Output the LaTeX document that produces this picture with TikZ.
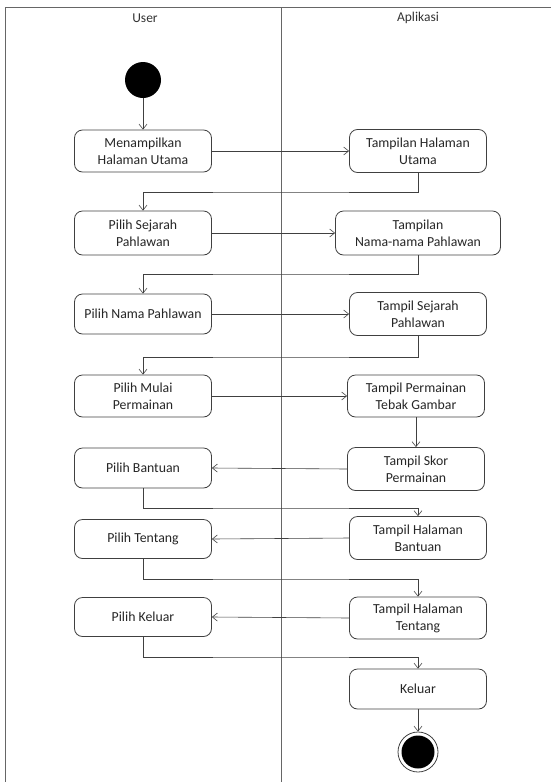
\documentclass[tikz,border=0pt]{standalone}
\usepackage{fontspec}
\setmainfont{Carlito}
\usetikzlibrary{arrows.meta}
\begin{document}
\begin{tikzpicture}[x=1pt,y=-1pt,
  act/.style={draw=black!75,line width=0.8pt,rounded corners=8pt,align=center,
    minimum width=137pt,minimum height=42pt,inner sep=1pt,
    font=\fontsize{13.8}{16.8}\selectfont,text=black!85},
  flow/.style={draw=black!75,line width=0.6pt,-{Straight Barb[length=5pt,width=8pt]}},
  lane/.style={draw=black!60,line width=0.9pt},
  hdr/.style={font=\fontsize{13.5}{15}\selectfont,text=black!80}]
\useasboundingbox (0,0) rectangle (551,782);
% swimlanes
\draw[lane] (5,782) -- (5,7) -- (551,7);
\draw[lane] (281,7) -- (281,782);
\node[hdr] (hUser) at (145,18) {User};
\node[hdr] (hApp) at (418,18) {Aplikasi};
% start / end
\node[circle,fill=black,minimum size=36pt,inner sep=0] (start) at (143,80) {};
\node[circle,draw=black!75,line width=0.8pt,minimum size=40pt,inner sep=0] (end) at (418,752) {};
\node[circle,fill=black,minimum size=33pt,inner sep=0] (endin) at (418,752) {};
% user lane
\node[act] (u1) at (143,151) {Menampilkan\\Halaman Utama};
\node[act,minimum height=44pt] (u2) at (143,233) {Pilih Sejarah\\Pahlawan};
\node[act,minimum height=40pt] (u3) at (143,314) {Pilih Nama Pahlawan};
\node[act] (u4) at (143,396) {Pilih Mulai\\Permainan};
\node[act,minimum height=40pt] (u5) at (143,468) {Pilih Bantuan};
\node[act,minimum height=39pt] (u6) at (143,539) {Pilih Tentang};
\node[act,minimum height=39pt] (u7) at (143,617) {Pilih Keluar};
% app lane
\node[act,minimum height=43pt] (a1) at (418,151) {Tampilan Halaman\\Utama};
\node[act,minimum width=165pt,minimum height=44pt] (a2) at (418,233) {Tampilan\\Nama-nama Pahlawan};
\node[act,minimum height=43pt] (a3) at (418,314) {Tampil Sejarah\\Pahlawan};
\node[act] (a4) at (416,396) {Tampil Permainan\\Tebak Gambar};
\node[act,minimum height=43pt] (a5) at (416,469) {Tampil Skor\\Permainan};
\node[act,minimum height=43pt] (a6) at (418,538) {Tampil Halaman\\Bantuan};
\node[act,minimum height=42pt] (a7) at (418,618) {Tampil Halaman\\Tentang};
\node[act,minimum height=40pt] (a8) at (418,689) {Keluar};
% connectors
\draw[flow] (start) -- (u1);
\draw[flow] (u1) -- (a1);
\draw[flow] (a1.south) |- (281,192) -| (u2.north);
\draw[flow] (u2) -- (a2);
\draw[flow] (a2.south) |- (281,274) -| (u3.north);
\draw[flow] (u3) -- (a3);
\draw[flow] (a3.south) |- (281,357) -| (u4.north);
\draw[flow] (u4) -- (a4);
\draw[flow] (a4) -- (a5);
\draw[flow] (a5.west) -- (u5.east);
\draw[flow] (u5.south) |- (281,508) -| (a6.north);
\draw[flow] (a6.west) -- (u6.east);
\draw[flow] (u6.south) |- (281,579) -| (a7.north);
\draw[flow] (a7.west) -- (u7.east);
\draw[flow] (u7.south) |- (281,657) -| (a8.north);
\draw[flow] (a8) -- (end);
\end{tikzpicture}
\end{document}
